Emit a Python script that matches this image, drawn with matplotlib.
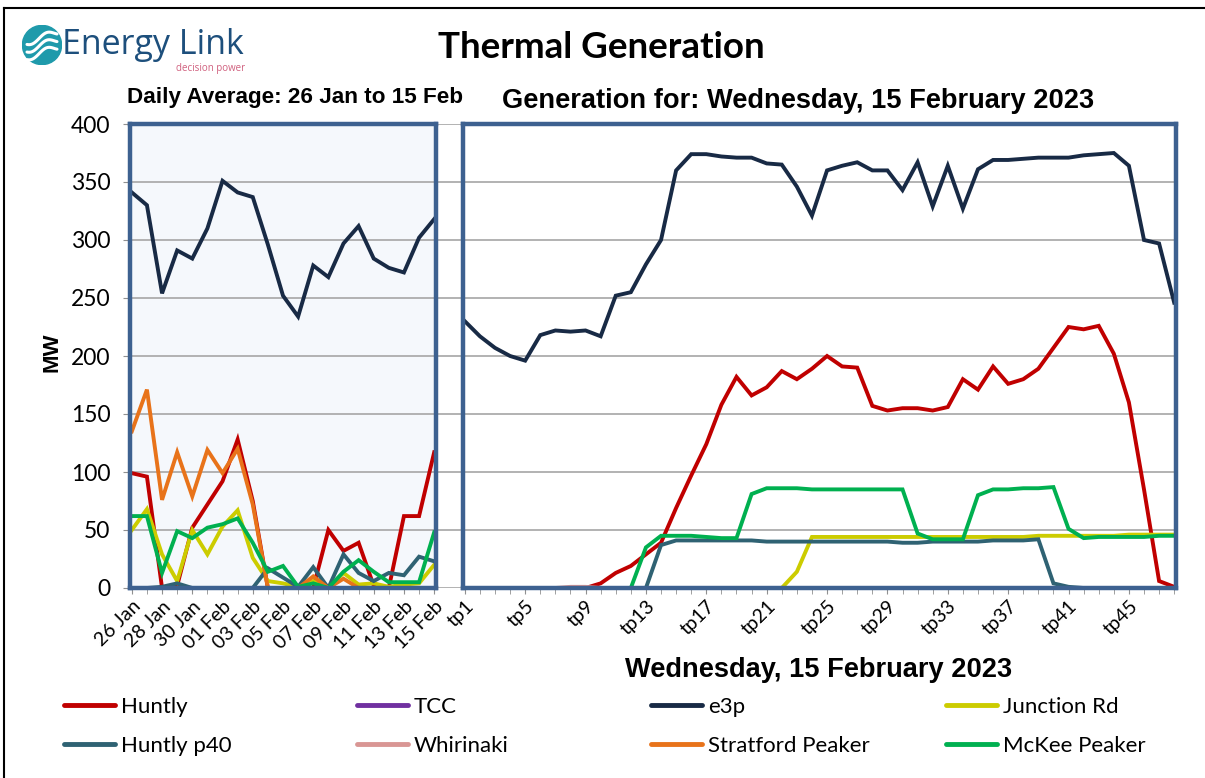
import numpy as np
import matplotlib
matplotlib.use('Agg')
from matplotlib import pyplot as plt
from matplotlib.lines import Line2D
from matplotlib.patches import Circle

W, H = 1205, 778
CAL = 'Lato'               # stand-in for Calibri
ARIAL = 'Liberation Sans'  # stand-in for Arial

# ---- daily averages, 26 Jan to 15 Feb ----
days = ['26 Jan', '27 Jan', '28 Jan', '29 Jan', '30 Jan', '31 Jan', '01 Feb',
        '02 Feb', '03 Feb', '04 Feb', '05 Feb', '06 Feb', '07 Feb', '08 Feb',
        '09 Feb', '10 Feb', '11 Feb', '12 Feb', '13 Feb', '14 Feb', '15 Feb']
huntly_daily = [99, 96, 0, 2, 52, 72, 92, 128, 75, 0, 0, 0, 0, 50, 32, 39, 2, 0, 62, 62, 117]
tcc_daily = [0] * 21
e3p_daily = [341, 330, 254, 291, 284, 310, 351, 341, 337, 296, 252, 234, 278, 268, 297,
             312, 284, 276, 272, 302, 318]
junction_daily = [50, 68, 29, 6, 50, 29, 53, 67, 26, 6, 4, 1, 6, 0, 13, 3, 4, 1, 3, 4, 20]
p40_daily = [0, 0, 1, 4, 0, 0, 0, 0, 0, 17, 9, 1, 18, 0, 29, 13, 6, 13, 11, 27, 23]
whirinaki_daily = [0] * 21
stratford_daily = [135, 171, 76, 117, 79, 119, 99, 120, 72, 0, 0, 0, 10, 0, 8, 0, 0, 0, 0, 0, 0]
mckee_daily = [62, 62, 13, 49, 43, 52, 55, 60, 39, 14, 19, 1, 4, 0, 14, 24, 14, 5, 5, 5, 48]

# ---- trading periods, Wednesday 15 Feb 2023 ----
tps = ['tp%d' % i for i in range(1, 49)]
huntly_tp = [0, 0, 0, 0, 0, 0, 0, 0, 0,
             4, 13, 19, 29, 39, 69, 97, 124, 158, 182,
             166, 173, 187, 180, 189, 200, 191, 190, 157, 153,
             155, 155, 153, 156, 180, 171, 191, 176, 180, 189,
             207, 225, 223, 226, 202, 160, 85, 6, 1]
tcc_tp = [0] * 48
e3p_tp = [230, 217, 207, 200, 196, 218, 222, 221, 222, 217, 252, 255, 279, 300, 360, 374,
          374, 372, 371, 371, 366, 365, 346, 321, 360, 364, 367, 360, 360, 343, 367, 329,
          364, 327, 361, 369, 369, 370, 371, 371, 371, 373, 374, 375, 364, 300, 297, 246]
junction_tp = [0] * 22 + [14, 44, 44, 44, 44, 44, 44, 44, 44, 44, 44, 44, 44, 44, 44, 44,
                          45, 45, 45, 45, 45, 45, 46, 46, 46, 46]
p40_tp = [0] * 13 + [37, 41, 41, 41, 41, 41, 41, 40, 40, 40, 40, 40, 40, 40, 40, 40,
                     39, 39, 40, 40, 40, 40, 41, 41, 41, 42, 4, 1] + [0] * 7
whirinaki_tp = [0] * 7 + [1, 1] + [0] * 39
stratford_tp = [0] * 48
mckee_tp = [0] * 12 + [35, 45, 45, 45, 44, 43, 43, 81, 86, 86, 86, 85, 85, 85, 85, 85,
                       85, 85, 47, 42, 42, 42, 80, 85, 85, 86, 86, 87, 51, 43, 44, 44,
                       44, 44, 45, 45]

names = ['Huntly', 'TCC', 'e3p', 'Junction Rd', 'Huntly p40', 'Whirinaki',
         'Stratford Peaker', 'McKee Peaker']
colors = ['#c00000', '#7030a0', '#182a45', '#cccc00', '#2f6273', '#d99694',
          '#e8731a', '#00b050']
daily = [huntly_daily, tcc_daily, e3p_daily, junction_daily, p40_daily,
         whirinaki_daily, stratford_daily, mckee_daily]
periods = [huntly_tp, tcc_tp, e3p_tp, junction_tp, p40_tp, whirinaki_tp,
           stratford_tp, mckee_tp]

BORDER = '#3d6190'
GRID = '#a6a6a6'
LW = 2.8


def fx(x):
    return x / W


def fy(y):
    return 1 - y / H


fig = plt.figure(figsize=(W / 100, H / 100), dpi=100)
fig.patch.set_facecolor('white')

bot, top = fy(588), fy(124)
yticks = np.arange(0, 401, 50)

# background gridlines running through the gap between the panels
bg = fig.add_axes([fx(130), bot, fx(1176) - fx(130), top - bot], zorder=0)
bg.set_facecolor('none')
bg.set_ylim(0, 400)
bg.set_xticks([])
bg.set_yticks(yticks)
bg.tick_params(length=0, labelleft=False)
bg.grid(axis='y', color=GRID, lw=1.2)
for s in bg.spines.values():
    s.set_visible(False)


def style_panel(ax, n, labels, step, face):
    ax.set_facecolor(face)
    ax.set_ylim(0, 400)
    ax.set_xlim(-0.12, n - 1 + 0.12)
    ax.set_yticks(yticks)
    ax.grid(axis='y', color=GRID, lw=1.2)
    ax.set_axisbelow(True)
    ax.set_xticks(range(0, n, step))
    ax.set_xticklabels(labels[::step], rotation=45, ha='right',
                       rotation_mode='anchor', fontsize=14, family=CAL)
    ax.set_xticks(range(n), minor=True)
    ax.tick_params(axis='x', which='both', direction='out', length=4,
                   color='#909090', pad=3)
    for s in ax.spines.values():
        s.set_color(BORDER)
        s.set_linewidth(3.2)


axl = fig.add_axes([fx(130), bot, fx(436) - fx(130), top - bot], zorder=2)
style_panel(axl, len(days), days, 2, '#f5f8fc')
axl.tick_params(axis='y', direction='out', length=5, color='#909090',
                labelsize=16.5, pad=9)
for lab in axl.get_yticklabels():
    lab.set_family(CAL)

axr = fig.add_axes([fx(463), bot, fx(1176) - fx(463), top - bot], zorder=2)
style_panel(axr, len(tps), tps, 4, 'white')
axr.tick_params(axis='y', length=0, labelleft=False)

handles = []
for name, col, d, p in zip(names, colors, daily, periods):
    axl.plot(range(len(days)), d, color=col, lw=LW, solid_joinstyle='miter')
    line, = axr.plot(range(len(tps)), p, color=col, lw=LW,
                     solid_joinstyle='miter', label=name)
    handles.append(line)

# titles and labels
fig.text(fx(601), fy(48), 'Thermal Generation', ha='center', va='center',
         fontsize=26.5, fontweight='bold', family=CAL)
fig.text(fx(127), fy(97), 'Daily Average: 26 Jan to 15 Feb', ha='left',
         va='center', fontsize=16.2, fontweight='bold', family=ARIAL)
fig.text(fx(502), fy(101), 'Generation for: Wednesday, 15 February 2023',
         ha='left', va='center', fontsize=19.6, fontweight='bold', family=ARIAL)
fig.text(fx(819), fy(670), 'Wednesday, 15 February 2023', ha='center',
         va='center', fontsize=19.6, fontweight='bold', family=ARIAL)
fig.text(fx(52), fy(352), 'MW', ha='center', va='center', rotation=90,
         fontsize=16, fontweight='bold', family=ARIAL)

# legend: four columns of two entries each
col_x = [64, 357, 651, 946]
for i, x in enumerate(col_x):
    hs = [handles[i], handles[i + 4]]
    leg = fig.legend(hs, [h.get_label() for h in hs], loc='upper left',
                     bbox_to_anchor=(fx(x), fy(697)), frameon=False,
                     handlelength=2.3, handletextpad=0.25, labelspacing=0.85,
                     borderaxespad=0, borderpad=0,
                     prop={'family': CAL, 'size': 16})
    for lh in leg.get_lines():
        lh.set_linewidth(3.5)
        lh.set_solid_capstyle('round')

# outer frame
fig.add_artist(Line2D([fx(4), fx(4)], [0, fy(8)], color='black', lw=1.5,
                      transform=fig.transFigure))
fig.add_artist(Line2D([fx(4), 1], [fy(8), fy(8)], color='black', lw=1.5,
                      transform=fig.transFigure))

# Energy Link logo
lg = fig.add_axes([fx(22), fy(65), fx(62) - fx(22), fy(25) - fy(65)])
lg.set_xlim(-1, 1)
lg.set_ylim(-1, 1)
lg.set_aspect('equal')
lg.axis('off')
lg.add_patch(Circle((0, 0), 0.98, color='#1f9aab'))
t = np.linspace(-0.75, 0.75, 60)
for off in (-0.38, 0.0, 0.38):
    lg.plot(t, off + 0.16 * np.sin(t * 4.2 + 0.6) + 0.35 * t, color='white',
            lw=2.2, solid_capstyle='round')
fig.text(fx(62), fy(45), 'Energy Link', ha='left', va='center', fontsize=24.5,
         color='#1d4f7c', family='Open Sans')
fig.text(fx(245), fy(69), 'decision power', ha='right', va='center',
         fontsize=7, color='#d0607e', family='Open Sans')

plt.savefig('out.png', dpi=100)
